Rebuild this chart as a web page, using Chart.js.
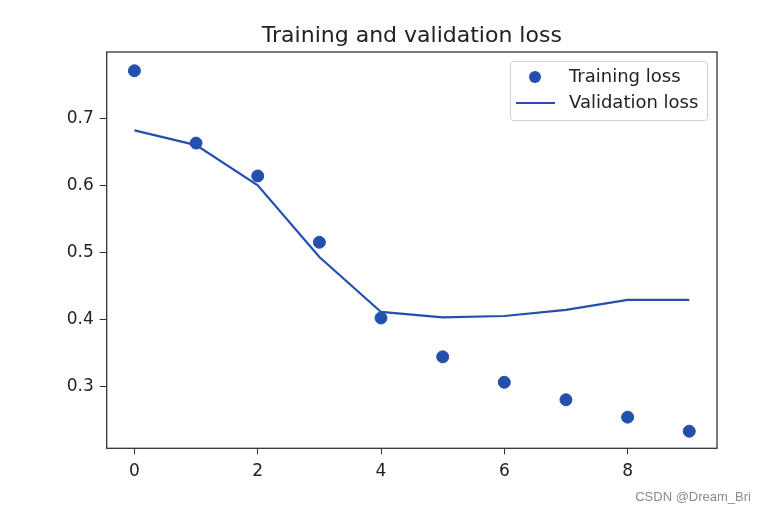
<!DOCTYPE html>
<html>
<head>
<meta charset="utf-8">
<script src="https://cdn.jsdelivr.net/npm/chart.js@4/dist/chart.umd.min.js"></script>
<style>
  body { margin: 0; background: #fff; }
  #wrap { position: relative; width: 766px; height: 513px; }
  #mark { position: absolute; right: 15px; bottom: 9px; font: 13px "Liberation Sans", Arial, sans-serif; color: #8a8a8a; }
</style>
</head>
<body>
<div id="wrap">
  <canvas id="lossChart"></canvas>
  <div id="mark">CSDN @Dream_Bri</div>
</div>
<script>
// data
const epochs = [0, 1, 2, 3, 4, 5, 6, 7, 8, 9];
const trainingLoss = [0.771, 0.663, 0.614, 0.515, 0.402, 0.344, 0.306, 0.280, 0.254, 0.233];
const validationLoss = [0.682, 0.660, 0.600, 0.493, 0.411, 0.403, 0.405, 0.414, 0.429, 0.429];
const xTicks = [0, 2, 4, 6, 8];
const yTicks = [0.3, 0.4, 0.5, 0.6, 0.7];
const titleText = 'Training and validation loss';

const blue = '#2450ad';
const font = '"DejaVu Sans", sans-serif';

// frame round the axes + title centred over the plot
const framePlugin = {
  id: 'frame',
  afterDatasetsDraw(chart) {
    const a = chart.chartArea, ctx = chart.ctx;
    ctx.save();
    ctx.strokeStyle = '#333';
    ctx.lineWidth = 1.3;
    ctx.strokeRect(a.left, a.top, a.right - a.left, a.bottom - a.top);
    ctx.font = '22px ' + font;
    ctx.fillStyle = '#222';
    ctx.textAlign = 'center';
    ctx.textBaseline = 'alphabetic';
    ctx.fillText(titleText, (a.left + a.right) / 2, a.top - 10.5);
    ctx.restore();
  }
};

// legend box in the upper right corner of the plot
const legendPlugin = {
  id: 'innerLegend',
  afterDraw(chart) {
    const a = chart.chartArea, ctx = chart.ctx;
    const w = 197, h = 59;
    const x = a.right - 10 - w, y = a.top + 9;
    ctx.save();
    ctx.fillStyle = 'rgba(255,255,255,0.85)';
    ctx.strokeStyle = '#d0d0d0';
    ctx.lineWidth = 1;
    ctx.beginPath();
    ctx.roundRect(x + 0.5, y + 0.5, w, h, 3);
    ctx.fill();
    ctx.stroke();
    const ds = chart.data.datasets;
    ctx.font = '18px ' + font;
    ctx.fillStyle = '#222';
    ctx.textBaseline = 'middle';
    // row 1: marker
    ctx.fillText(ds[0].label, x + 59, y + 16);
    ctx.fillStyle = blue;
    ctx.beginPath();
    ctx.arc(x + 25, y + 16, 6, 0, Math.PI * 2);
    ctx.fill();
    // row 2: line
    ctx.fillStyle = '#222';
    ctx.fillText(ds[1].label, x + 59, y + 42);
    ctx.strokeStyle = blue;
    ctx.lineWidth = 2.2;
    ctx.beginPath();
    ctx.moveTo(x + 6, y + 42);
    ctx.lineTo(x + 45, y + 42);
    ctx.stroke();
    ctx.restore();
  }
};

new Chart(document.getElementById('lossChart'), {
  type: 'scatter',
  data: {
    datasets: [{
      label: 'Training loss',
      data: epochs.map((e, i) => ({ x: e, y: trainingLoss[i] })),
      backgroundColor: blue,
      borderColor: blue,
      pointRadius: 6,
      pointHoverRadius: 6,
      showLine: false
    }, {
      label: 'Validation loss',
      data: epochs.map((e, i) => ({ x: e, y: validationLoss[i] })),
      borderColor: blue,
      backgroundColor: blue,
      borderWidth: 2.2,
      pointRadius: 0,
      showLine: true,
      tension: 0
    }]
  },
  options: {
    responsive: true,
    maintainAspectRatio: false,
    animation: false,
    layout: { padding: { left: 0, right: 49, top: 52, bottom: 0 } },
    plugins: {
      legend: { display: false },
      tooltip: { enabled: false },
      title: { display: false }
    },
    scales: {
      x: {
        type: 'linear',
        min: -0.45,
        max: 9.45,
        afterBuildTicks: s => { s.ticks = xTicks.map(v => ({ value: v })); },
        afterFit: s => { s.height = 64.7; },
        border: { display: false },
        grid: { drawOnChartArea: false, drawTicks: true, tickLength: 6, tickColor: '#333', tickWidth: 1 },
        ticks: { color: '#222', padding: 7, maxRotation: 0, font: { family: font, size: 17 } }
      },
      y: {
        min: 0.2075,
        max: 0.799,
        afterBuildTicks: s => { s.ticks = yTicks.map(v => ({ value: v })); },
        afterFit: s => { s.width = 106.7; },
        border: { display: false },
        grid: { drawOnChartArea: false, drawTicks: true, tickLength: 7, tickColor: '#333', tickWidth: 1 },
        ticks: { color: '#222', padding: 6, font: { family: font, size: 17 }, callback: v => v.toFixed(1) }
      }
    }
  },
  plugins: [framePlugin, legendPlugin]
});
</script>
</body>
</html>
